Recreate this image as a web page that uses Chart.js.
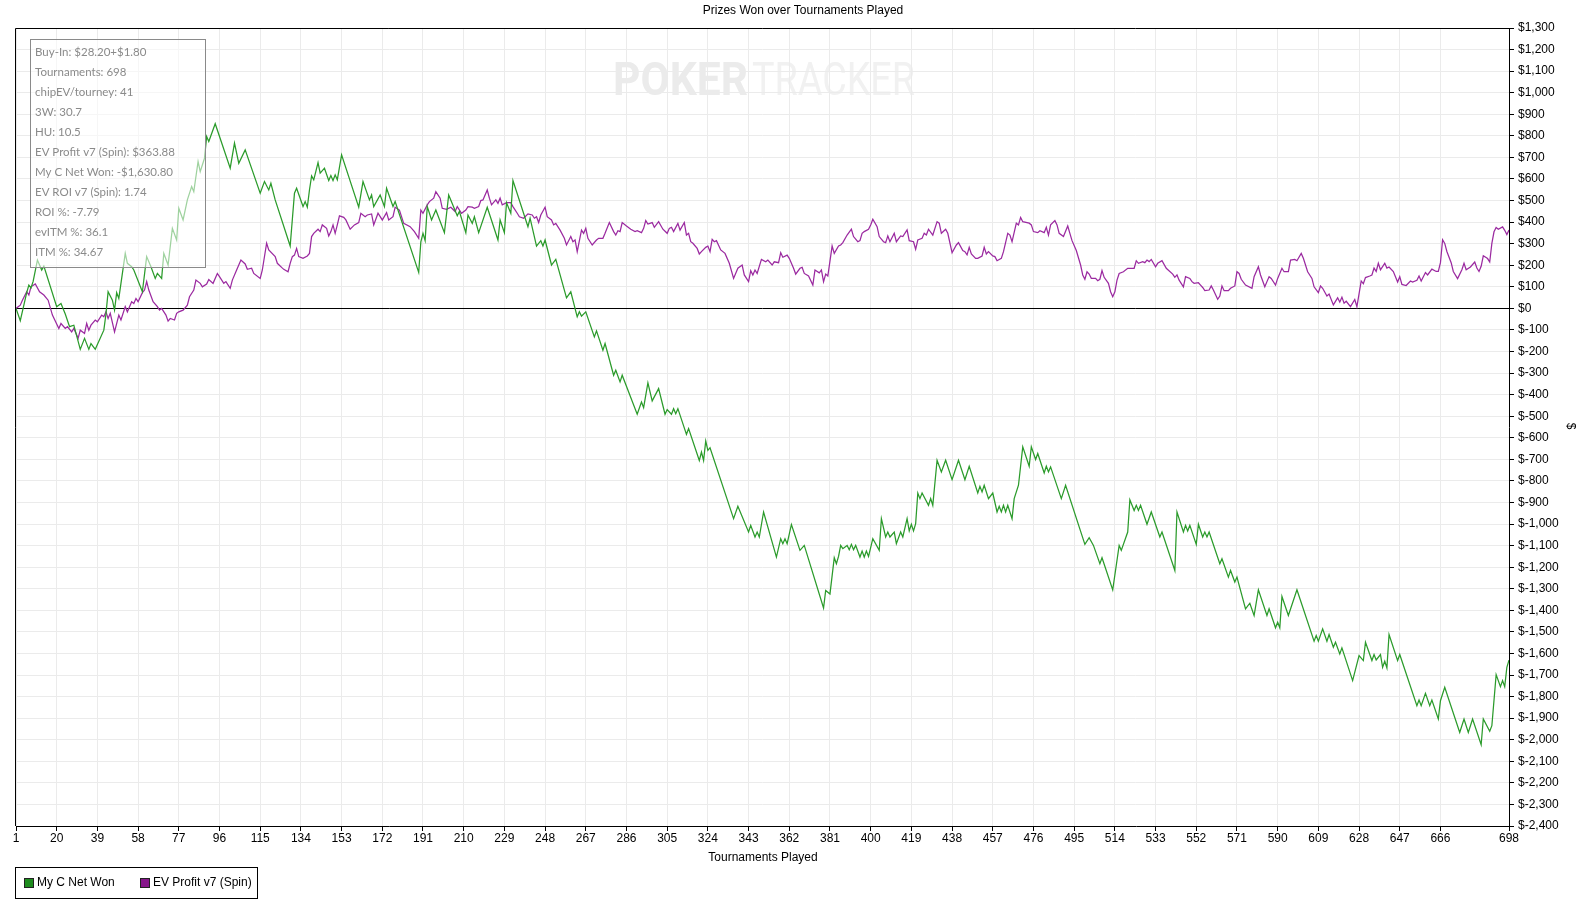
<!DOCTYPE html>
<html><head><meta charset="utf-8">
<script src="https://cdn.jsdelivr.net/npm/chart.js@4.4.1/dist/chart.umd.min.js"></script>
<style>html,body{margin:0;padding:0;background:#fff;overflow:hidden}#wrap{width:1579px;height:912px;position:relative}</style>
</head><body><div id="wrap"><canvas id="c"></canvas></div>
<script>
const chartTitle = 'Prizes Won over Tournaments Played';
const xAxisTitle = 'Tournaments Played';
const yAxisTitle = '$';
const seriesNames = ['My C Net Won', 'EV Profit v7 (Spin)'];
const xTicks = [1,20,39,58,77,96,115,134,153,172,191,210,229,248,267,286,305,324,343,362,381,400,419,438,457,476,495,514,533,552,571,590,609,628,647,666,698];
const yMin = -2400, yMax = 1300, yStep = 100;
const statLines = ['Buy-In: $28.20+$1.80','Tournaments: 698','chipEV/tourney: 41','3W: 30.7','HU: 10.5','EV Profit v7 (Spin): $363.88','My C Net Won: -$1,630.80','EV ROI v7 (Spin): 1.74','ROI %: -7.79','evITM %: 36.1','ITM %: 34.67'];

// My C Net Won: tournament number / cumulative $
const netT = [
1,3,6,7,8,9,11,13,14,20,
22,24,26,28,31,33,35,36,38,42,
43,44,46,47,48,49,52,53,55,56,
60,62,64,66,67,69,70,72,74,76,
77,79,81,83,84,86,87,89,90,91,
94,101,103,105,108,115,117,119,120,122,
129,131,132,135,136,137,138,139,140,142,
143,145,147,148,149,150,151,153,161,163,
166,167,168,171,173,174,177,178,189,190,
191,192,193,195,197,201,203,207,208,211,
212,214,215,217,221,226,227,229,230,232,
233,240,241,244,246,247,248,251,253,258,
260,263,264,265,267,271,272,275,276,280,
281,283,284,291,293,294,296,298,301,304,
305,307,308,309,310,314,315,320,321,322,
323,324,325,336,338,343,344,346,347,348,
350,356,358,359,360,361,363,367,369,378,
379,381,383,384,385,386,387,389,390,391,
392,393,395,396,397,398,399,401,404,405,
407,408,409,411,412,414,415,417,418,419,
420,421,422,423,424,427,428,429,431,433,
435,438,441,444,446,450,451,452,453,455,
457,459,460,461,462,463,464,466,467,469,
471,474,475,477,478,481,482,483,484,489,
491,500,502,504,507,508,513,516,517,520,
521,523,524,525,526,529,531,535,536,542,
543,546,547,548,549,552,553,555,556,557,
558,563,564,567,568,570,571,575,577,579,
581,585,586,589,590,591,592,595,599,607,
608,609,611,613,614,616,617,619,620,625,
628,630,631,634,635,636,638,639,640,641,
642,646,647,655,656,657,659,661,662,665,
666,668,675,677,679,681,685,686,689,690,
692,694,695,696,697,698];
const netV = [
0,-57,73,108,95,125,224,178,196,8,
23,-26,-85,-78,-190,-139,-190,-163,-190,-101,
-26,77,38,-8,73,46,255,209,193,178,
77,240,193,139,162,139,255,201,371,317,
464,410,503,565,541,681,634,696,797,774,
856,650,766,673,735,534,588,549,580,503,
289,534,557,472,495,469,549,614,596,676,
627,650,593,616,593,619,596,712,469,588,
503,526,472,526,472,557,472,495,167,309,
348,314,472,410,456,351,526,429,449,351,
433,394,425,351,469,317,410,351,490,441,
593,379,418,289,314,289,317,201,227,49,
77,-39,-16,-36,-16,-132,-104,-194,-163,-310,
-287,-341,-310,-491,-434,-460,-345,-429,-372,-491,
-469,-491,-465,-488,-465,-584,-557,-705,-666,-705,
-615,-658,-646,-975,-918,-1037,-1006,-1060,-1037,-1060,
-944,-1153,-1068,-1091,-1068,-1091,-1002,-1122,-1099,-1389,
-1308,-1324,-1156,-1184,-1150,-1099,-1114,-1099,-1119,-1094,
-1119,-1099,-1153,-1125,-1153,-1125,-1150,-1068,-1122,-975,
-1060,-1037,-1060,-1037,-1091,-1037,-1060,-975,-1032,-1001,
-1032,-998,-856,-882,-856,-913,-882,-913,-704,-758,
-704,-794,-704,-794,-732,-856,-825,-851,-820,-882,
-856,-944,-918,-944,-913,-944,-913,-975,-882,-820,
-642,-732,-642,-701,-673,-763,-732,-758,-735,-882,
-820,-1094,-1063,-1099,-1184,-1156,-1305,-1099,-1122,-1037,
-887,-937,-913,-937,-913,-1001,-944,-1060,-1037,-1215,
-944,-1037,-1006,-1032,-1006,-1094,-1001,-1060,-1037,-1060,
-1037,-1184,-1161,-1246,-1215,-1269,-1246,-1393,-1367,-1424,
-1305,-1424,-1393,-1481,-1455,-1481,-1336,-1424,-1305,-1543,
-1517,-1543,-1486,-1543,-1512,-1571,-1548,-1602,-1574,-1726,
-1610,-1633,-1548,-1633,-1605,-1630,-1605,-1664,-1636,-1667,
-1512,-1633,-1605,-1842,-1816,-1842,-1785,-1842,-1816,-1904,
-1819,-1757,-1966,-1904,-1966,-1904,-2023,-1904,-1961,-1935,
-1698,-1754,-1726,-1754,-1664,-1630.8];

// EV Profit v7 (Spin): tournament number / cumulative $
const evT = [
1,3,4,6,7,8,10,12,14,16,
18,21,22,24,25,27,28,30,31,33,
34,35,36,38,39,41,42,43,44,45,
47,49,50,52,53,55,56,57,58,60,
61,62,63,65,67,68,69,71,72,73,
75,76,77,79,81,82,84,85,87,88,
90,91,93,95,96,98,99,101,102,104,
106,108,109,111,112,115,116,118,119,122,
123,125,126,128,129,130,131,132,133,135,
137,138,139,140,142,143,144,146,147,148,
149,150,151,152,154,155,157,159,161,162,
164,165,167,168,170,172,174,175,177,178,
180,182,185,187,189,190,191,193,194,196,
197,199,200,202,204,206,207,209,211,212,
214,215,217,218,219,221,222,223,225,226,
227,228,230,232,233,235,236,238,240,242,
243,244,245,246,248,249,251,252,253,255,
257,258,260,261,262,263,265,266,267,268,
270,272,273,275,276,278,280,281,282,283,
284,286,288,290,291,293,294,295,296,298,
299,301,303,305,306,307,308,310,311,313,
314,315,316,317,319,320,321,323,324,325,
326,327,328,330,332,334,336,338,340,341,
343,344,345,346,347,349,351,352,354,355,
357,358,359,361,362,364,365,367,368,369,
371,373,374,376,377,378,379,380,382,383,
385,386,387,389,391,392,394,395,396,397,
399,400,401,403,404,406,407,408,409,411,
412,414,415,417,418,420,421,422,424,425,
426,427,429,431,432,433,435,436,438,440,
441,443,444,445,446,447,449,450,452,453,
454,455,457,458,459,461,462,464,465,466,
468,469,470,471,473,474,475,476,478,479,
481,482,483,484,486,487,488,490,492,493,
494,496,498,499,500,501,502,503,505,506,
507,508,509,511,512,513,514,515,516,518,
520,523,524,525,527,528,529,530,531,533,
534,536,538,541,542,543,544,546,547,549,
550,551,553,554,555,556,558,559,560,562,
563,564,565,567,568,570,571,572,573,575,
578,579,581,582,584,585,586,587,589,590,
592,593,595,596,598,599,601,602,604,606,
607,609,610,611,613,614,616,618,619,620,
621,622,624,626,627,629,630,631,633,634,
635,636,637,638,640,641,642,644,646,647,
648,650,652,653,655,656,657,659,660,662,
664,665,666,667,668,669,671,672,674,676,
677,678,680,682,683,684,685,686,688,689,
690,691,692,693,695,696,697,698];
const evV = [
0,15,38,77,62,100,113,77,62,38,
-31,-93,-70,-93,-85,-109,-93,-139,-101,-116,
-70,-101,-78,-54,-62,-31,-39,-16,-47,-23,
-109,-31,-54,8,-16,31,23,46,31,73,
85,124,85,31,8,-8,0,-31,-59,-47,
-54,-23,-16,-8,15,54,85,131,116,100,
113,134,116,162,147,116,124,93,131,178,
224,206,181,186,162,139,178,302,271,240,
209,190,181,170,209,240,247,278,240,232,
243,255,333,348,367,356,387,371,336,356,
387,348,387,429,422,410,367,387,398,441,
425,433,438,387,441,410,444,410,425,469,
456,394,379,356,325,456,441,480,495,511,
541,511,464,459,469,449,472,441,456,472,
469,464,472,500,503,549,511,480,503,487,
511,480,490,490,472,441,425,418,438,433,
418,425,398,433,469,425,410,387,394,363,
325,294,333,309,317,263,363,348,371,325,
294,317,325,325,348,398,356,340,360,356,
398,382,367,356,360,351,371,407,391,398,
376,402,367,348,371,376,356,394,363,398,
340,348,309,302,278,252,263,283,289,263,
320,309,314,271,255,209,139,186,201,155,
124,175,155,178,162,227,216,224,201,216,
212,258,237,247,232,186,159,186,190,162,
150,108,178,165,178,124,159,150,289,255,
289,294,305,340,367,333,309,314,348,356,
367,387,413,379,333,309,305,336,309,348,
309,336,333,364,314,309,274,317,325,348,
340,367,340,402,395,348,367,348,258,294,
305,268,263,248,283,252,232,232,243,283,
252,263,243,240,221,232,263,348,340,309,
395,387,422,402,398,395,387,356,351,360,
351,376,340,387,407,387,348,333,382,348,
314,268,201,155,135,170,159,139,139,128,
135,175,144,116,77,54,77,131,162,170,
186,186,221,209,217,212,224,217,227,193,
209,221,186,159,144,155,131,100,147,139,
124,116,119,108,97,82,85,104,85,42,
57,104,82,82,93,104,170,162,135,108,
93,147,193,155,100,124,147,139,108,139,
186,170,170,224,227,221,255,232,170,139,
100,73,104,93,57,66,16,49,29,52,
24,33,8,41,8,127,114,143,150,155,
187,171,209,179,209,187,192,171,122,147,
111,106,127,122,130,150,127,166,155,182,
171,171,212,318,301,264,212,171,138,179,
209,179,192,215,187,171,195,244,231,215,
301,355,375,367,378,362,342,363.88];

const GREEN = '#2b9b2b', PURPLE = '#9b2aa0';
const GREEN_BOX = '#1e8c1e', PURPLE_BOX = '#86168a';
const FONT = '"Liberation Sans", Arial, sans-serif';

function money(v){
  const a = Math.abs(v).toLocaleString('en-US');
  return '$' + (v < 0 ? '-' : '') + a;
}

const decor = {
  id: 'decor',
  beforeDraw(chart){
    const ctx = chart.ctx;
    ctx.save();
    ctx.textBaseline = 'alphabetic';
    ctx.font = 'bold 46px Roboto, "DejaVu Sans", sans-serif';
    let w = ctx.measureText('POKER').width;
    ctx.fillStyle = '#ebebeb';
    ctx.translate(613, 95); ctx.scale(135 / w, 1);
    ctx.fillText('POKER', 0, 0);
    ctx.restore();
    ctx.save();
    ctx.font = '46px Roboto, "DejaVu Sans", sans-serif';
    w = ctx.measureText('TRACKER').width;
    ctx.fillStyle = '#f1f1f1';
    ctx.translate(752, 95); ctx.scale(163 / w, 1);
    ctx.fillText('TRACKER', 0, 0);
    ctx.restore();
  },
  afterDraw(chart){
    const ctx = chart.ctx, a = chart.chartArea;
    ctx.save();
    ctx.strokeStyle = '#000'; ctx.lineWidth = 1;
    const L = Math.round(a.left) - 0.5, T = Math.round(a.top) + 0.5;
    ctx.beginPath();
    ctx.moveTo(L, Math.round(a.bottom)); ctx.lineTo(L, T); ctx.lineTo(Math.round(a.right), T);
    ctx.stroke();

    ctx.fillStyle = '#000';
    ctx.font = '12px ' + FONT;
    ctx.textAlign = 'center'; ctx.textBaseline = 'middle';
    ctx.fillText(chartTitle, 803, 11);
    ctx.fillText(xAxisTitle, 763, 858);
    ctx.save();
    ctx.translate(1570, 426); ctx.rotate(Math.PI / 2);
    ctx.fillText(yAxisTitle, 0, 0);
    ctx.restore();

    ctx.fillStyle = 'rgba(255,255,255,0.55)';
    ctx.fillRect(30.5, 39.5, 175, 228);
    ctx.strokeStyle = '#8a8a8a';
    ctx.strokeRect(30.5, 39.5, 175, 228);
    ctx.fillStyle = '#8a8a8a';
    ctx.font = '11.5px Lato, "Open Sans", sans-serif';
    ctx.textAlign = 'left'; ctx.textBaseline = 'middle';
    statLines.forEach((s, i) => ctx.fillText(s, 35, 52 + i * 20));

    ctx.strokeStyle = '#000';
    ctx.strokeRect(15.5, 867.5, 242, 31);
    ctx.fillStyle = GREEN_BOX; ctx.fillRect(24.5, 878.5, 9, 9);
    ctx.strokeStyle = '#222'; ctx.strokeRect(24.5, 878.5, 9, 9);
    ctx.fillStyle = PURPLE_BOX; ctx.fillRect(140.5, 878.5, 9, 9);
    ctx.strokeRect(140.5, 878.5, 9, 9);
    ctx.fillStyle = '#000'; ctx.font = '12px ' + FONT;
    ctx.fillText(seriesNames[0], 37, 883);
    ctx.fillText(seriesNames[1], 153, 883);
    ctx.restore();
  }
};

new Chart(document.getElementById('c'), {
  type: 'line',
  data: {
    datasets: [
      { label: seriesNames[0], data: netT.map((t, i) => ({x: t, y: netV[i]})),
        borderColor: GREEN, borderWidth: 1.25, pointRadius: 0, tension: 0, fill: false },
      { label: seriesNames[1], data: evT.map((t, i) => ({x: t, y: evV[i]})),
        borderColor: PURPLE, borderWidth: 1.25, pointRadius: 0, tension: 0, fill: false }
    ]
  },
  options: {
    responsive: true, maintainAspectRatio: false, animation: false,
    layout: { padding: { left: 16, top: 28, right: 0, bottom: 0 } },
    plugins: { legend: { display: false }, title: { display: false }, tooltip: { enabled: false } },
    scales: {
      x: {
        type: 'linear', min: 1, max: 698, position: 'bottom',
        afterBuildTicks: s => { s.ticks = xTicks.map(v => ({ value: v })); },
        afterFit: s => { s.height = 86; },
        ticks: { autoSkip: false, maxRotation: 0, color: '#000', padding: 0,
                 font: { family: FONT, size: 12 }, callback: v => String(v) },
        grid: { color: '#ebebeb', lineWidth: 1, tickLength: 5, tickColor: '#000' },
        border: { display: true, color: '#000', width: 1 }
      },
      y: {
        type: 'linear', position: 'right', min: yMin, max: yMax,
        afterBuildTicks: s => { const t = []; for (let v = yMin; v <= yMax; v += yStep) t.push({ value: v }); s.ticks = t; },
        afterFit: s => { s.width = 70; },
        ticks: { autoSkip: false, color: '#000', padding: 4,
                 font: { family: FONT, size: 12 }, callback: v => money(v) },
        grid: { color: c => (c.tick && c.tick.value === 0) ? '#000' : '#ebebeb', lineWidth: 1,
                tickLength: 5, tickColor: '#000' },
        border: { display: true, color: '#000', width: 1 }
      }
    }
  },
  plugins: [decor]
});
</script>
</body></html>
